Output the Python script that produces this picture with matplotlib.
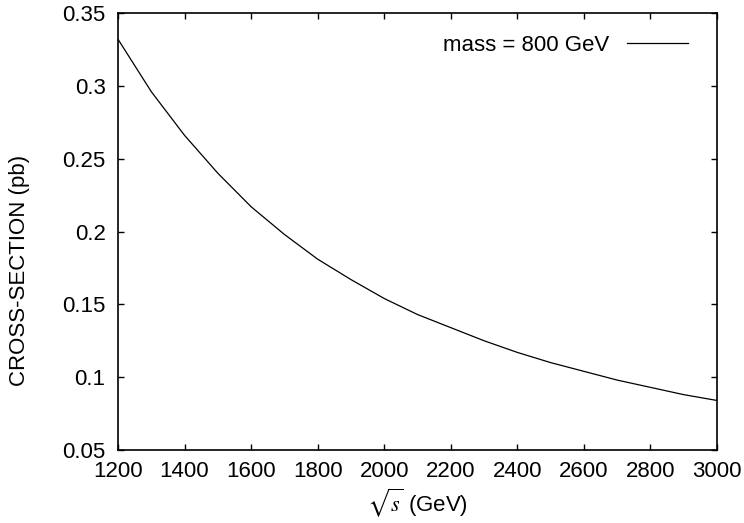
import matplotlib
matplotlib.use("Agg")
import matplotlib.pyplot as plt

# sqrt(s) in GeV and cross-section in pb
sqrt_s = [1200, 1300, 1400, 1500, 1600, 1700, 1800, 1900, 2000, 2100,
          2200, 2300, 2400, 2500, 2600, 2700, 2800, 2900, 3000]
xsec = [0.332, 0.296, 0.266, 0.240, 0.217, 0.198, 0.181, 0.167, 0.154, 0.143,
        0.134, 0.125, 0.117, 0.110, 0.104, 0.098, 0.093, 0.088, 0.084]
xticks = [1200, 1400, 1600, 1800, 2000, 2200, 2400, 2600, 2800, 3000]
yticks = [0.05, 0.1, 0.15, 0.2, 0.25, 0.3, 0.35]
ytick_labels = ["0.05", "0.1", "0.15", "0.2", "0.25", "0.3", "0.35"]

plt.rcParams['font.family'] = ['Liberation Sans', 'DejaVu Sans']
plt.rcParams['mathtext.fontset'] = 'stix'

fig = plt.figure(figsize=(7.44, 5.23), dpi=100)
# axes box: x 118..717 px, y 13..450 px
ax = fig.add_axes([118 / 744, 1 - 450 / 523, 599 / 744, 437 / 523])

ax.plot(sqrt_s, xsec, color='black', lw=0.9, label='mass = 800 GeV')

ax.set_xlim(1200, 3000)
ax.set_ylim(0.05, 0.35)
ax.set_xticks(xticks)
ax.set_yticks(yticks)
ax.set_yticklabels(ytick_labels)
ax.tick_params(direction='in', top=True, right=True, length=4.5, width=1,
               labelsize=16)
ax.tick_params(axis='y', pad=9)
ax.tick_params(axis='x', pad=8)
for sp in ax.spines.values():
    sp.set_linewidth(1.2)

ax.set_xlabel(r'$\sqrt{s}$ (GeV)', fontsize=16, labelpad=3)
ax.set_ylabel('CROSS-SECTION (pb)', fontsize=16)
ax.yaxis.set_label_coords(-0.147, 0.41)

ax.legend(loc='upper right', bbox_to_anchor=(0.9666, 0.97), borderaxespad=0,
          frameon=False, markerfirst=False, fontsize=16,
          handlelength=2.75, handletextpad=0.8)

plt.savefig("out.png", dpi=100)
